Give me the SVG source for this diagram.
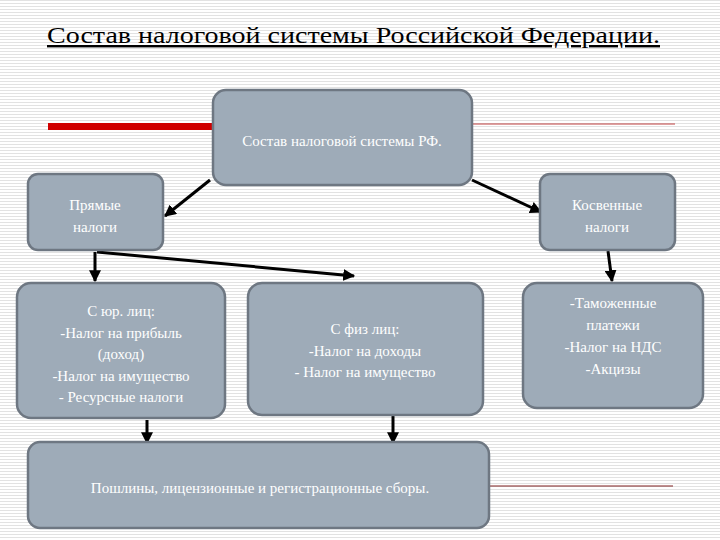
<svg xmlns="http://www.w3.org/2000/svg" width="720" height="540" viewBox="0 0 720 540">
<defs>
<pattern id="bg" width="4" height="3" patternUnits="userSpaceOnUse"><rect width="4" height="3" fill="#fff"/><rect width="4" height="1" fill="#e2e2e2"/></pattern>
<marker id="ah" viewBox="0 0 10 10" refX="9" refY="5" markerWidth="4" markerHeight="4" orient="auto"><path d="M0,0L10,5L0,10z" fill="#000"/></marker>
</defs>
<style>
.box{fill:#9eabb8;stroke:#6e7782;stroke-width:2.5}
.t{font-family:'Times New Roman','Liberation Serif','DejaVu Serif',serif;font-size:15px;fill:#fff;text-anchor:middle}
.c{stroke:#000;stroke-width:3;fill:none;marker-end:url(#ah)}
</style>
<rect width="720" height="540" fill="url(#bg)"/>
<text x="47" y="43" font-family="'Times New Roman','Liberation Serif','DejaVu Serif',serif" font-size="24" textLength="613" lengthAdjust="spacingAndGlyphs" text-decoration="underline" fill="#000">Состав налоговой системы Российской Федерации.</text>
<rect x="48" y="123" width="166" height="7" fill="#d00000"/>
<line x1="472" y1="124" x2="675" y2="124" stroke="#c04040" stroke-width="1"/>
<line x1="490" y1="486" x2="673" y2="486" stroke="#802020" stroke-width="1"/>
<g id="connectors">
<path class="c" d="M210,180L165,216"/>
<path class="c" d="M472,180L541,212"/>
<path class="c" d="M95,252L95,281"/>
<path class="c" d="M97,252L354,276"/>
<path class="c" d="M608,251L612,281"/>
<path class="c" d="M147,420L147,443"/>
<path class="c" d="M393,416L393,443"/>
</g>
<g id="root"><rect class="box" x="213" y="90" width="259" height="95" rx="13"/><text class="t" x="342" y="146">Состав налоговой системы РФ.</text></g>
<g id="direct"><rect class="box" x="28" y="174" width="135" height="76" rx="10"/><text class="t" x="95" y="210">Прямые</text><text class="t" x="95" y="232">налоги</text></g>
<g id="indirect"><rect class="box" x="540" y="174" width="135" height="76" rx="10"/><text class="t" x="607" y="210">Косвенные</text><text class="t" x="607" y="232">налоги</text></g>
<g id="legal"><rect class="box" x="17" y="283" width="208" height="135" rx="14"/>
<text class="t" x="121" y="316">С юр. лиц:</text><text class="t" x="121" y="338">-Налог на прибыль</text><text class="t" x="121" y="359">(доход)</text><text class="t" x="121" y="381">-Налог на имущество</text><text class="t" x="121" y="402">- Ресурсные налоги</text></g>
<g id="phys"><rect class="box" x="248" y="283" width="235" height="132" rx="14"/>
<text class="t" x="365" y="334">С физ лиц:</text><text class="t" x="365" y="356">-Налог на доходы</text><text class="t" x="365" y="377">- Налог на имущество</text></g>
<g id="customs"><rect class="box" x="523" y="283" width="180" height="125" rx="14"/>
<text class="t" x="613" y="308">-Таможенные</text><text class="t" x="613" y="330">платежи</text><text class="t" x="613" y="352">-Налог на НДС</text><text class="t" x="613" y="374">-Акцизы</text></g>
<g id="fees"><rect class="box" x="28" y="442" width="461" height="86" rx="12"/><text class="t" x="260" y="493">Пошлины, лицензионные и регистрационные сборы.</text></g>
</svg>
